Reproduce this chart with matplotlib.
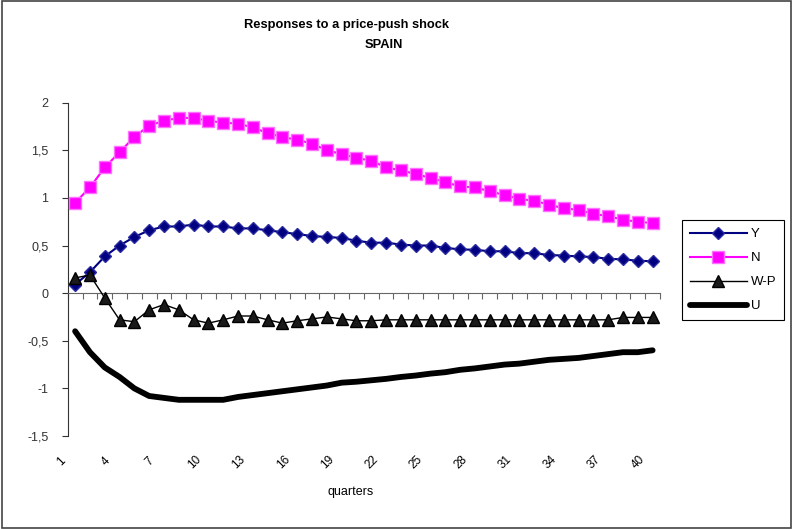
import numpy as np
import matplotlib
matplotlib.use("Agg")
from matplotlib import pyplot as plt
from matplotlib.patches import Rectangle

plt.rcParams['font.family'] = ['Liberation Sans', 'DejaVu Sans']

# quarters 1..40
quarters = np.arange(1, 41)
tick_quarters = [1, 4, 7, 10, 13, 16, 19, 22, 25, 28, 31, 34, 37, 40]

y_resp = [0.09, 0.22, 0.385, 0.50, 0.59, 0.66, 0.70, 0.70, 0.72, 0.70,
          0.70, 0.68, 0.68, 0.66, 0.64, 0.62, 0.60, 0.59, 0.58, 0.55,
          0.53, 0.53, 0.51, 0.50, 0.50, 0.475, 0.46, 0.455, 0.44, 0.44,
          0.42, 0.42, 0.40, 0.395, 0.385, 0.38, 0.36, 0.355, 0.34, 0.335]
n_resp = [0.95, 1.11, 1.32, 1.48, 1.64, 1.76, 1.81, 1.84, 1.84, 1.81,
          1.79, 1.78, 1.74, 1.68, 1.64, 1.61, 1.57, 1.50, 1.46, 1.42,
          1.39, 1.32, 1.29, 1.25, 1.21, 1.165, 1.12, 1.11, 1.07, 1.03,
          0.99, 0.97, 0.93, 0.89, 0.875, 0.83, 0.81, 0.77, 0.75, 0.735]
wp_resp = [0.16, 0.19, -0.05, -0.28, -0.30, -0.175, -0.12, -0.175, -0.28, -0.315,
           -0.28, -0.24, -0.24, -0.28, -0.315, -0.29, -0.27, -0.25, -0.27, -0.29,
           -0.29, -0.28, -0.28, -0.28, -0.28, -0.28, -0.28, -0.28, -0.28, -0.28,
           -0.28, -0.28, -0.28, -0.28, -0.28, -0.28, -0.28, -0.255, -0.255, -0.255]
u_resp = [-0.40, -0.62, -0.78, -0.88, -1.00, -1.08, -1.10, -1.12, -1.12, -1.12,
          -1.12, -1.09, -1.07, -1.05, -1.03, -1.01, -0.99, -0.97, -0.94, -0.93,
          -0.915, -0.90, -0.88, -0.865, -0.845, -0.83, -0.805, -0.79, -0.77, -0.75,
          -0.74, -0.72, -0.70, -0.69, -0.68, -0.66, -0.64, -0.62, -0.62, -0.60]

fig = plt.figure(figsize=(7.93, 5.29), dpi=100)
ax = fig.add_axes([0.0854, 0.1758, 0.8323 - 0.0854, 0.8059 - 0.1758])

ax.plot(quarters, y_resp, color='#000080', lw=1.5, marker='D', ms=6.5,
        mfc='#000080', mec='#2a2aa0', mew=1, label='Y', zorder=4)
ax.plot(quarters, n_resp, color='#ff00ff', lw=1.5, marker='s', ms=8,
        mfc='#ff00ff', mec='#ff70ff', mew=1, label='N', zorder=4)
ax.plot(quarters, wp_resp, color='black', lw=1, marker='^', ms=8.5,
        mfc='#1a1a1a', mec='black', mew=1, label='W-P', zorder=5)
ax.plot(quarters, u_resp, color='black', lw=4.2, solid_capstyle='round',
        label='U', zorder=3)

ax.set_xlim(0.5, 40.5)
ax.set_ylim(-1.5, 2)

axis_col = '#333333'
for s in ['top', 'right']:
    ax.spines[s].set_visible(False)
ax.spines['left'].set_color(axis_col)
ax.spines['bottom'].set_color('#666666')
ax.spines['bottom'].set_position(('data', 0))

ax.set_yticks([-1.5, -1, -0.5, 0, 0.5, 1, 1.5, 2])
ax.set_yticklabels(['-1,5', '-1', '-0,5', '0', '0,5', '1', '1,5', '2'])
ax.tick_params(axis='y', direction='out', length=4, color=axis_col,
               labelsize=9, labelcolor='#333333', pad=10)

ax.set_xticks(np.arange(0.5, 41, 1))
ax.set_xticklabels([])
ax.tick_params(axis='x', direction='out', length=4, color='#666666')

# rotated quarter labels below the plot area
for q in tick_quarters:
    ax.text(q - 0.95, -0.078, str(q), transform=ax.get_xaxis_transform(),
            rotation=45, ha='center', va='center', fontsize=8.5, color='black')

fig.text(0.4375, 1 - 25 / 529, 'Responses to a price-push shock',
         ha='center', va='center', fontsize=9.3, fontweight='bold')
fig.text(0.4842, 1 - 45 / 529, 'SPAIN', ha='center', va='center',
         fontsize=9.3, fontweight='bold')
fig.text(0.4426, 1 - 492 / 529, 'quarters', ha='center', va='center',
         fontsize=9)

leg = ax.legend(loc='upper left', bbox_to_anchor=(682 / 793, 1 - 220 / 529),
                bbox_transform=fig.transFigure, borderaxespad=0,
                fancybox=False, edgecolor='black', framealpha=1,
                fontsize=9.5, handlelength=4.3, labelspacing=0.9,
                handletextpad=0.3, borderpad=0.6)
leg.get_frame().set_linewidth(0.8)

fig.patches.append(Rectangle((0.002, 0.002), 0.996, 0.996, transform=fig.transFigure,
                             fill=False, edgecolor='#444444', lw=1.2))

fig.savefig('out.png', dpi=100)
